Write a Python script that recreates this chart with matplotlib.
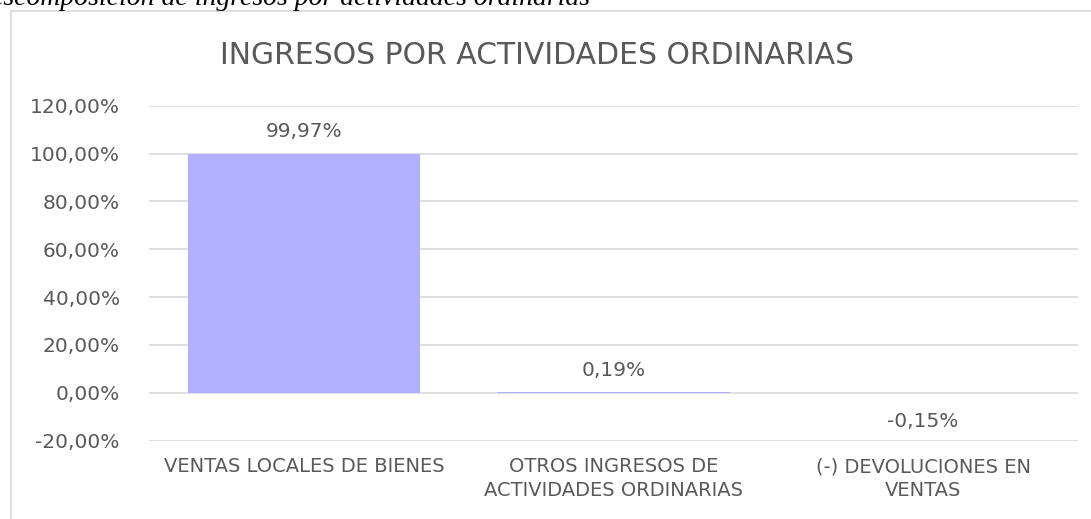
import matplotlib
matplotlib.use("Agg")
import matplotlib.pyplot as plt
from matplotlib.patches import Rectangle
from matplotlib.ticker import FuncFormatter

# Data.
categorias = ["VENTAS LOCALES DE BIENES",
              "OTROS INGRESOS DE\nACTIVIDADES ORDINARIAS",
              "(-) DEVOLUCIONES EN\nVENTAS"]
porcentajes = [99.97, 0.19, -0.15]
etiquetas = ["99,97%", "0,19%", "-0,15%"]
y_ticks = [-20, 0, 20, 40, 60, 80, 100, 120]

titulo = "INGRESOS POR ACTIVIDADES ORDINARIAS"
leyenda_fig = "Descomposición de ingresos por actividades ordinarias"

texto = "#595959"
rejilla = "#D9D9D9"
barra = "#B0B0FF"

W, H = 1091, 519
fig = plt.figure(figsize=(W / 100, H / 100), dpi=100)
fig.patch.set_facecolor("white")

# chart frame (cut by the image edges on the right and bottom)
fig.patches.append(Rectangle((10.5 / W, -0.1), 1.2, 1 - 10.5 / H + 0.1,
                             transform=fig.transFigure, fill=False,
                             edgecolor=rejilla, linewidth=1.2))

# caption above the frame, cut by the top edge as in the source
fig.text(590 / W, 1 - 5 / H, leyenda_fig, ha="right", va="baseline",
         fontsize=20, style="italic", family="Liberation Serif", color="black")

ax = fig.add_axes([149 / W, 1 - 440.7 / H, (1078 - 149) / W, (440.7 - 105.7) / H])
x = range(len(categorias))
ax.bar(x, porcentajes, width=0.75, color=barra, zorder=2)

for i, (v, lab) in enumerate(zip(porcentajes, etiquetas)):
    off = 22 if v >= 0 else -28
    ax.annotate(lab, (i, v), xytext=(0, off), textcoords="offset pixels",
                ha="center", va="center", fontsize=14.5, color=texto)

ax.set_xlim(-0.5, len(categorias) - 0.5)
ax.set_ylim(-20, 120)
ax.set_yticks(y_ticks)
ax.yaxis.set_major_formatter(FuncFormatter(lambda v, p: f"{v:.2f}%".replace(".", ",")))
ax.set_xticks(list(x))
ax.set_xticklabels(categorias, fontsize=14, color=texto, linespacing=1.3)
ax.tick_params(axis="y", labelsize=14.5, labelcolor=texto, length=0, pad=21)
ax.tick_params(axis="x", length=0, pad=12)
ax.grid(axis="y", color=rejilla, linewidth=1.2, zorder=0)
ax.set_axisbelow(True)
for s in ax.spines.values():
    s.set_visible(False)

fig.text(537.5 / W, 1 - 55 / H, titulo, ha="center", va="center",
         fontsize=21.5, color=texto)

fig.savefig("out.png", dpi=100, facecolor="white")
